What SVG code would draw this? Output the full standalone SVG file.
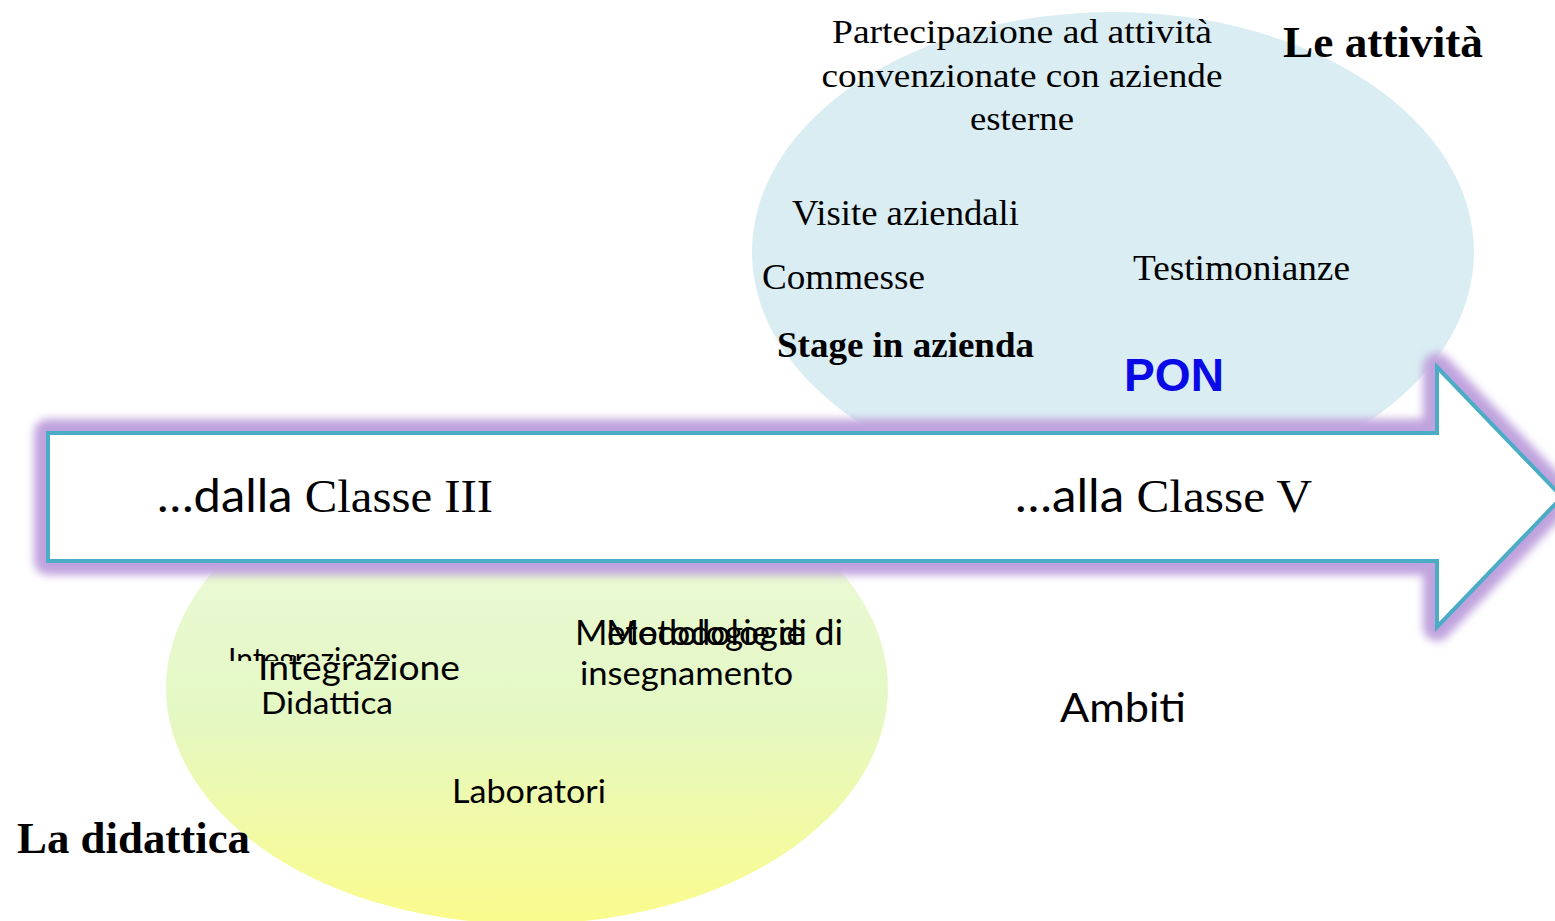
<svg xmlns="http://www.w3.org/2000/svg" width="1555" height="921" viewBox="0 0 1555 921">
<style>
.serif{font-family:"Liberation Serif","Times New Roman",serif;fill:#000}
.sans{font-family:Lato,"Open Sans","Liberation Sans",sans-serif;fill:#000}
.b{font-weight:bold}
</style>
<defs>
<linearGradient id="gGreen" x1="0" y1="0" x2="0" y2="1">
<stop offset="0" stop-color="#eef9e0"/>
<stop offset="0.55" stop-color="#e4f8c4"/>
<stop offset="1" stop-color="#fbfb8c"/>
</linearGradient>
<filter id="glow" x="-5%" y="-25%" width="110%" height="150%">
<feGaussianBlur stdDeviation="4"/>
</filter>
<clipPath id="clipInt"><rect x="200" y="630" width="300" height="31"/></clipPath>
</defs>
<rect width="1555" height="921" fill="#fff"/>

<g id="ellipse-attivita">
<ellipse cx="1113" cy="252" rx="361" ry="240" fill="#daedf3"/>
</g>
<g id="ellipse-didattica">
<ellipse cx="527" cy="688" rx="361" ry="236" fill="url(#gGreen)"/>
</g>

<g id="arrow">
<path d="M48,433 L1437,433 L1437,367 L1562,497 L1437,627 L1437,561 L48,561 Z" fill="none" stroke="#c0a3de" stroke-width="28" stroke-linejoin="round" filter="url(#glow)"/>
<path d="M48,433 L1437,433 L1437,367 L1562,497 L1437,627 L1437,561 L48,561 Z" fill="#fff" stroke="#4bacc6" stroke-width="4"/>
<text x="157" y="512" font-size="46" textLength="336" lengthAdjust="spacingAndGlyphs"><tspan class="sans">…dalla</tspan><tspan class="serif"> Classe III</tspan></text>
<text x="1015" y="512" font-size="46" textLength="297" lengthAdjust="spacingAndGlyphs"><tspan class="sans">…alla</tspan><tspan class="serif"> Classe V</tspan></text>
</g>

<g id="node-attivita">
<text class="serif b" x="1283" y="57" font-size="44" textLength="200" lengthAdjust="spacingAndGlyphs">Le attività</text>
<text class="serif" x="1022" y="43" font-size="34" text-anchor="middle" textLength="380" lengthAdjust="spacingAndGlyphs">Partecipazione ad attività</text>
<text class="serif" x="1022" y="87" font-size="34" text-anchor="middle" textLength="401" lengthAdjust="spacingAndGlyphs">convenzionate con aziende</text>
<text class="serif" x="1022" y="130" font-size="34" text-anchor="middle" textLength="104" lengthAdjust="spacingAndGlyphs">esterne</text>
<text class="serif" x="792" y="225" font-size="36" textLength="227" lengthAdjust="spacingAndGlyphs">Visite aziendali</text>
<text class="serif" x="762" y="289" font-size="36" textLength="163" lengthAdjust="spacingAndGlyphs">Commesse</text>
<text class="serif" x="1133" y="280" font-size="36" textLength="217" lengthAdjust="spacingAndGlyphs">Testimonianze</text>
<text class="serif b" x="777" y="357" font-size="36" textLength="257" lengthAdjust="spacingAndGlyphs">Stage in azienda</text>
<text x="1124" y="391" font-family="'Liberation Sans',Arial,sans-serif" font-weight="bold" font-size="47" fill="#0a0ae6" textLength="100" lengthAdjust="spacingAndGlyphs">PON</text>
</g>

<g id="node-didattica">
<text class="sans" x="228" y="670" font-size="30" clip-path="url(#clipInt)">Integrazione</text>
<text class="sans" x="258" y="680" font-size="35" textLength="202" lengthAdjust="spacingAndGlyphs">Integrazione</text>
<text class="sans" x="261" y="714" font-size="30" textLength="132" lengthAdjust="spacingAndGlyphs">Didattica</text>
<text class="sans" x="575" y="645" font-size="34" textLength="232" lengthAdjust="spacingAndGlyphs">Metodologie di</text>
<text class="sans" x="606" y="645" font-size="34" textLength="237" lengthAdjust="spacingAndGlyphs">Metodologie di</text>
<text class="sans" x="580" y="685" font-size="32" textLength="213" lengthAdjust="spacingAndGlyphs">insegnamento</text>
<text class="sans" x="452" y="803" font-size="32" textLength="154" lengthAdjust="spacingAndGlyphs">Laboratori</text>
<text class="serif b" x="17" y="853" font-size="44" textLength="233" lengthAdjust="spacingAndGlyphs">La didattica</text>
</g>

<g id="node-ambiti">
<text class="sans" x="1060" y="722" font-size="40" textLength="126" lengthAdjust="spacingAndGlyphs">Ambiti</text>
</g>
</svg>
